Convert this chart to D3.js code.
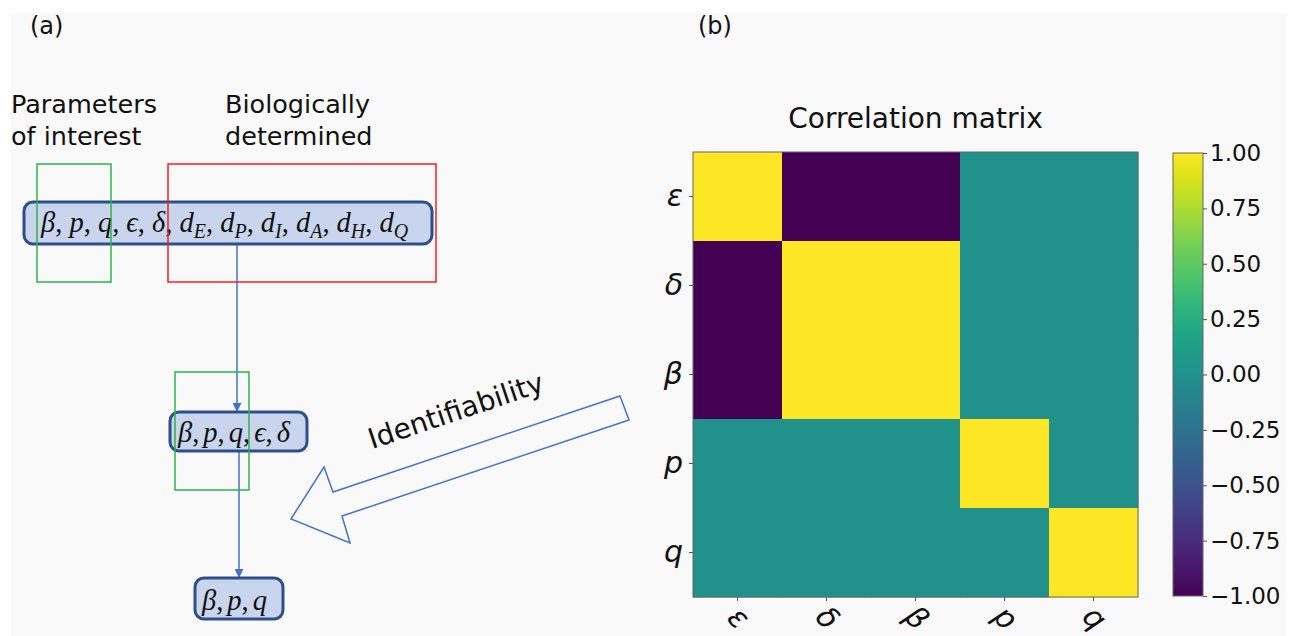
<!DOCTYPE html>
<html>
<head>
<meta charset="utf-8">
<script src="https://cdn.jsdelivr.net/npm/d3@7"></script>
<style>
body { margin:0; background:#fff; }
svg { display:block; }
</style>
</head>
<body>
<svg id="chart" width="1298" height="636"></svg>
<script>
// correlation matrix data (panel b)
var params = ["ε", "δ", "β", "p", "q"]
var corr = [
	[ 1, -1, -1, 0, 0],
	[-1,  1,  1, 0, 0],
	[-1,  1,  1, 0, 0],
	[ 0,  0,  0, 1, 0],
	[ 0,  0,  0, 0, 1]
]
var cbTicks = [1.00, 0.75, 0.50, 0.25, 0.00, -0.25, -0.50, -0.75, -1.00]

// parameter lists of the diagram (panel a)
var allParams = [["β"],["p"],["q"],["ϵ"],["δ"],["d","E"],["d","P"],["d","I"],["d","A"],["d","H"],["d","Q"]]
var midParams = [["β"],["p"],["q"],["ϵ"],["δ"]]
var endParams = [["β"],["p"],["q"]]

var svg = d3.select("#chart")
var blue = "#4472c4"

// grey page
svg.append("rect").attr("x",11).attr("y",13).attr("width",1275).attr("height",623).attr("fill","#f9f9f9")

var sans = "'DejaVu Sans', sans-serif"
svg.append("text").text("(a)").attr("x",30).attr("y",34).style("font-family",sans).style("font-size","24px").attr("fill","#111")
svg.append("text").text("(b)").attr("x",698).attr("y",34).style("font-family",sans).style("font-size","24px").attr("fill","#111")

function twoLines(x, y, lines){
	var t = svg.append("text").attr("x",x).attr("y",y).style("font-family",sans).style("font-size","25.5px").attr("fill","#111")
	lines.forEach(function(l,i){
		t.append("tspan").attr("x",x).attr("dy", i==0 ? 0 : 32).text(l)
	})
}
twoLines(11, 113, ["Parameters","of interest"])
twoLines(225, 113, ["Biologically","determined"])

// a rounded box with a math list, spacing fitted to a width
function mathBox(x, y, w, h, tx, ty, tw, fs, list){
	svg.append("rect").attr("x",x).attr("y",y).attr("width",w).attr("height",h)
		.attr("rx",9).attr("fill","#c8d5ec").attr("stroke","#2f4f8a").attr("stroke-width",3)
	var t = svg.append("text").attr("x",tx).attr("y",ty)
		.style("font-family","'Liberation Serif','DejaVu Serif',serif").style("font-size",fs+"px").attr("fill","#111")
	var down = 0
	list.forEach(function(p,i){
		t.append("tspan").style("font-style","italic").text(p[0])
		if (p.length>1) {
			t.append("tspan").style("font-style","italic").style("font-size","0.7em").attr("dy",fs*0.22).text(p[1])
			down = fs*0.22
		}
		if (i<list.length-1) {
			t.append("tspan").attr("dy",-down).text(", ")
			down = 0
		}
	})
	var len = t.node().getComputedTextLength()
	t.style("word-spacing", ((tw-len)/(list.length-1))+"px")
}

// arrows between boxes
svg.append("defs").append("marker").attr("id","ah").attr("viewBox","0 0 10 10")
	.attr("refX",10).attr("refY",5).attr("markerWidth",9).attr("markerHeight",9)
	.attr("markerUnits","userSpaceOnUse").attr("orient","auto")
	.append("path").attr("d","M0,0 L10,5 L0,10 z").attr("fill",blue)

svg.append("line").attr("x1",237).attr("y1",244).attr("x2",237).attr("y2",412)
	.attr("stroke",blue).attr("stroke-width",1.5).attr("marker-end","url(#ah)")
svg.append("line").attr("x1",239).attr("y1",451).attr("x2",239).attr("y2",578)
	.attr("stroke",blue).attr("stroke-width",1.5).attr("marker-end","url(#ah)")

mathBox(24, 202, 408, 42, 41, 232, 367, 28.5, allParams)
mathBox(170, 412, 137, 39, 178, 442, 112, 28.5, midParams)
mathBox(195, 578, 88, 41, 202, 610, 65, 28.5, endParams)

// selection frames
function frame(x,y,w,h,c){
	svg.append("rect").attr("x",x).attr("y",y).attr("width",w).attr("height",h)
		.attr("fill","none").attr("stroke",c).attr("stroke-width",1.5)
}
frame(37,164,74,118,"#2db24a")
frame(168,164,268,118,"#f02020")
frame(175,372,74,118,"#2db24a")

// hollow identifiability arrow
var arrowPts = [[620,396],[629,420],[342,516],[350,543],[291,519],[324,467],[333,492]]
svg.append("polygon").attr("points", arrowPts.map(function(p){return p.join(",")}).join(" "))
	.attr("fill","none").attr("stroke",blue).attr("stroke-width",1.5).attr("stroke-linejoin","miter")
svg.append("text").text("Identifiability")
	.attr("transform","translate(372,449) rotate(-18.5)")
	.style("font-family",sans).style("font-size","28px").attr("fill","#111")

// ---- panel b: heatmap ----
var hx0 = 693, hy0 = 152, hsize = 445
var x = d3.scaleBand().domain(params).range([hx0, hx0+hsize])
var y = d3.scaleBand().domain(params).range([hy0, hy0+hsize])
var color = d3.scaleSequential(d3.interpolateViridis).domain([-1,1])

var cells = []
corr.forEach(function(row,i){ row.forEach(function(v,j){ cells.push({r:params[i], c:params[j], v:v}) }) })

svg.append("g").selectAll("rect").data(cells).enter().append("rect")
	.attr("x",function(d){return x(d.c)}).attr("y",function(d){return y(d.r)})
	.attr("width",x.bandwidth()+0.5).attr("height",y.bandwidth()+0.5)
	.attr("fill",function(d){return color(d.v)})
svg.append("rect").attr("x",hx0).attr("y",hy0).attr("width",hsize).attr("height",hsize)
	.attr("fill","none").attr("stroke","#666").attr("stroke-width",1)

svg.append("text").text("Correlation matrix").attr("x",hx0+hsize/2).attr("y",128)
	.attr("text-anchor","middle").style("font-family",sans).style("font-size","28px").attr("fill","#111")

var yAxis = svg.append("g").attr("transform","translate("+hx0+",0)")
	.call(d3.axisLeft(y).tickSize(4).tickPadding(6))
yAxis.select(".domain").remove()
yAxis.selectAll("line").attr("stroke","#555")
yAxis.selectAll("text").style("font-family",sans).style("font-size","30px")
	.style("font-style","italic").attr("fill","#111")

var xAxis = svg.append("g").attr("transform","translate(0,"+(hy0+hsize)+")")
	.call(d3.axisBottom(x).tickSize(4).tickPadding(0))
xAxis.select(".domain").remove()
xAxis.selectAll("line").attr("stroke","#555")
xAxis.selectAll("text").style("font-family",sans).style("font-size","30px")
	.style("font-style","italic").attr("fill","#111")
	.attr("y",0).attr("dy",0).attr("text-anchor","middle")
	.attr("transform","translate(0,22) rotate(45)").attr("dominant-baseline","middle")

// ---- colorbar ----
var cbx = 1173, cbw = 30
var cbScale = d3.scaleLinear().domain([-1,1]).range([hy0+hsize-1, hy0+1])
var grad = svg.select("defs").append("linearGradient").attr("id","vir")
	.attr("x1",0).attr("y1",1).attr("x2",0).attr("y2",0)
d3.range(0,1.0001,0.05).forEach(function(t){
	grad.append("stop").attr("offset",t).attr("stop-color",d3.interpolateViridis(t))
})
svg.append("rect").attr("x",cbx).attr("y",cbScale(1)).attr("width",cbw).attr("height",cbScale(-1)-cbScale(1))
	.attr("fill","url(#vir)").attr("stroke","#666").attr("stroke-width",1)

var cbAxis = svg.append("g").attr("transform","translate("+(cbx+cbw)+",0)")
	.call(d3.axisRight(cbScale).tickValues(cbTicks).tickSize(4).tickPadding(3)
		.tickFormat(function(d){ return d3.format(".2f")(d).replace("-","−") }))
cbAxis.select(".domain").remove()
cbAxis.selectAll("line").attr("stroke","#555")
cbAxis.selectAll("text").style("font-family",sans).style("font-size","23px").attr("fill","#111")
</script>
</body>
</html>
